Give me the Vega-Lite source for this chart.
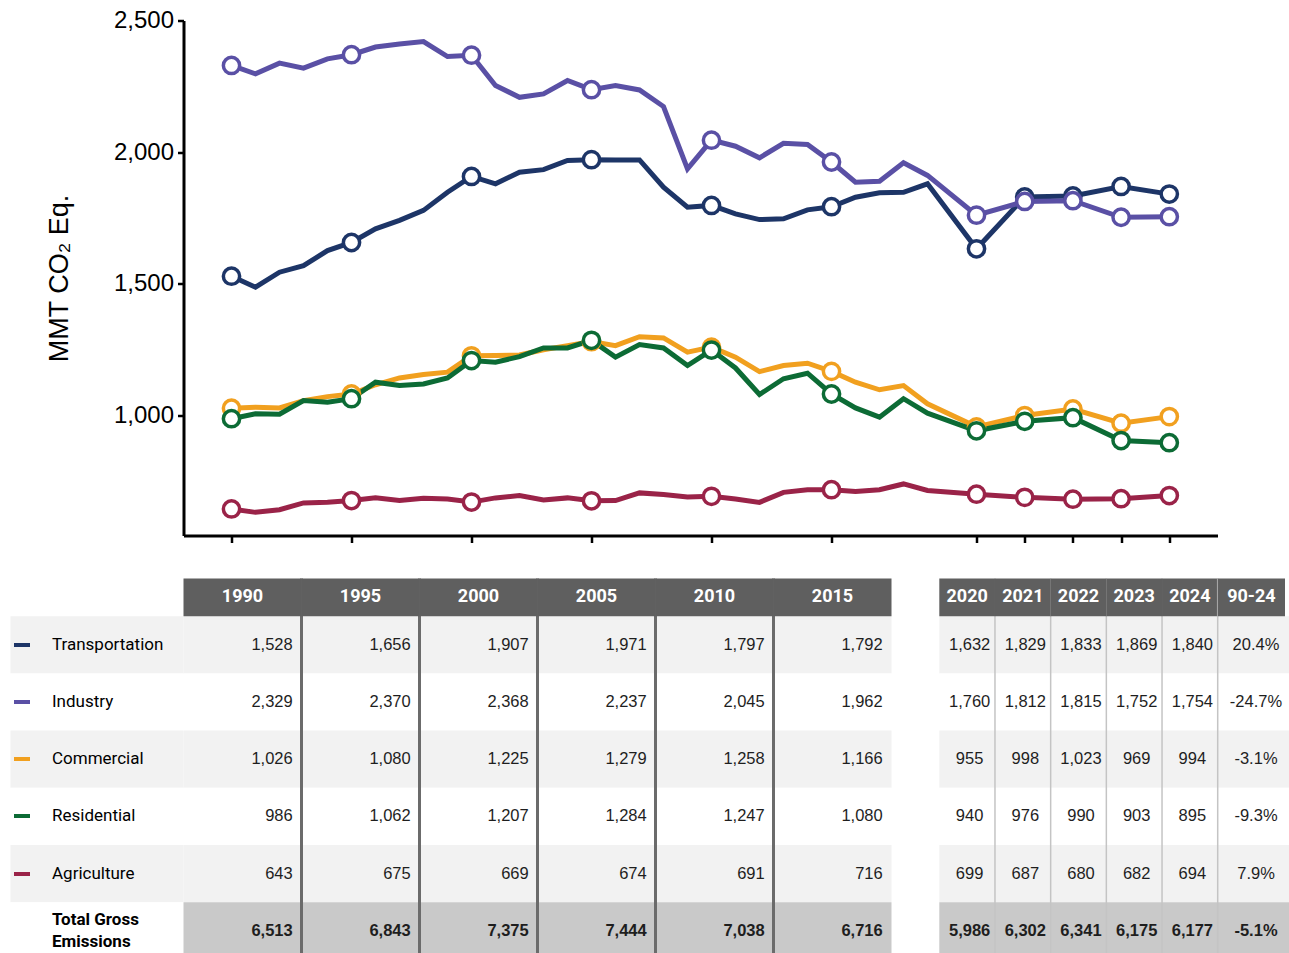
{
  "$schema": "https://vega.github.io/schema/vega-lite/v6.json",
  "background": "white",
  "padding": {"left": 10.5, "top": 8.5, "right": 0, "bottom": 0},
  "config": {"view": {"stroke": null}},
  "datasets": {
    "series": [
      {"sector":"Transportation","year":1990,"value":1528},{"sector":"Transportation","year":1991,"value":1486},{"sector":"Transportation","year":1992,"value":1543},{"sector":"Transportation","year":1993,"value":1568},{"sector":"Transportation","year":1994,"value":1625},{"sector":"Transportation","year":1995,"value":1656},{"sector":"Transportation","year":1996,"value":1708},{"sector":"Transportation","year":1997,"value":1740},{"sector":"Transportation","year":1998,"value":1778},{"sector":"Transportation","year":1999,"value":1847},{"sector":"Transportation","year":2000,"value":1907},{"sector":"Transportation","year":2001,"value":1879},{"sector":"Transportation","year":2002,"value":1923},{"sector":"Transportation","year":2003,"value":1933},{"sector":"Transportation","year":2004,"value":1968},{"sector":"Transportation","year":2005,"value":1971},{"sector":"Transportation","year":2006,"value":1970},{"sector":"Transportation","year":2007,"value":1970},{"sector":"Transportation","year":2008,"value":1866},{"sector":"Transportation","year":2009,"value":1790},{"sector":"Transportation","year":2010,"value":1797},{"sector":"Transportation","year":2011,"value":1765},{"sector":"Transportation","year":2012,"value":1743},{"sector":"Transportation","year":2013,"value":1746},{"sector":"Transportation","year":2014,"value":1780},{"sector":"Transportation","year":2015,"value":1792},{"sector":"Transportation","year":2016,"value":1828},{"sector":"Transportation","year":2017,"value":1845},{"sector":"Transportation","year":2018,"value":1847},{"sector":"Transportation","year":2019,"value":1879},{"sector":"Transportation","year":2020,"value":1632},{"sector":"Transportation","year":2021,"value":1829},{"sector":"Transportation","year":2022,"value":1833},{"sector":"Transportation","year":2023,"value":1869},{"sector":"Transportation","year":2024,"value":1840},
      {"sector":"Industry","year":1990,"value":2329},{"sector":"Industry","year":1991,"value":2297},{"sector":"Industry","year":1992,"value":2338},{"sector":"Industry","year":1993,"value":2319},{"sector":"Industry","year":1994,"value":2354},{"sector":"Industry","year":1995,"value":2370},{"sector":"Industry","year":1996,"value":2399},{"sector":"Industry","year":1997,"value":2411},{"sector":"Industry","year":1998,"value":2420},{"sector":"Industry","year":1999,"value":2363},{"sector":"Industry","year":2000,"value":2368},{"sector":"Industry","year":2001,"value":2253},{"sector":"Industry","year":2002,"value":2208},{"sector":"Industry","year":2003,"value":2221},{"sector":"Industry","year":2004,"value":2272},{"sector":"Industry","year":2005,"value":2237},{"sector":"Industry","year":2006,"value":2253},{"sector":"Industry","year":2007,"value":2236},{"sector":"Industry","year":2008,"value":2173},{"sector":"Industry","year":2009,"value":1936},{"sector":"Industry","year":2010,"value":2045},{"sector":"Industry","year":2011,"value":2022},{"sector":"Industry","year":2012,"value":1978},{"sector":"Industry","year":2013,"value":2033},{"sector":"Industry","year":2014,"value":2029},{"sector":"Industry","year":2015,"value":1962},{"sector":"Industry","year":2016,"value":1885},{"sector":"Industry","year":2017,"value":1889},{"sector":"Industry","year":2018,"value":1959},{"sector":"Industry","year":2019,"value":1911},{"sector":"Industry","year":2020,"value":1760},{"sector":"Industry","year":2021,"value":1812},{"sector":"Industry","year":2022,"value":1815},{"sector":"Industry","year":2023,"value":1752},{"sector":"Industry","year":2024,"value":1754},
      {"sector":"Commercial","year":1990,"value":1026},{"sector":"Commercial","year":1991,"value":1030},{"sector":"Commercial","year":1992,"value":1027},{"sector":"Commercial","year":1993,"value":1055},{"sector":"Commercial","year":1994,"value":1070},{"sector":"Commercial","year":1995,"value":1080},{"sector":"Commercial","year":1996,"value":1115},{"sector":"Commercial","year":1997,"value":1141},{"sector":"Commercial","year":1998,"value":1154},{"sector":"Commercial","year":1999,"value":1163},{"sector":"Commercial","year":2000,"value":1225},{"sector":"Commercial","year":2001,"value":1226},{"sector":"Commercial","year":2002,"value":1228},{"sector":"Commercial","year":2003,"value":1248},{"sector":"Commercial","year":2004,"value":1264},{"sector":"Commercial","year":2005,"value":1279},{"sector":"Commercial","year":2006,"value":1264},{"sector":"Commercial","year":2007,"value":1298},{"sector":"Commercial","year":2008,"value":1293},{"sector":"Commercial","year":2009,"value":1239},{"sector":"Commercial","year":2010,"value":1258},{"sector":"Commercial","year":2011,"value":1220},{"sector":"Commercial","year":2012,"value":1165},{"sector":"Commercial","year":2013,"value":1188},{"sector":"Commercial","year":2014,"value":1197},{"sector":"Commercial","year":2015,"value":1166},{"sector":"Commercial","year":2016,"value":1125},{"sector":"Commercial","year":2017,"value":1096},{"sector":"Commercial","year":2018,"value":1112},{"sector":"Commercial","year":2019,"value":1043},{"sector":"Commercial","year":2020,"value":955},{"sector":"Commercial","year":2021,"value":998},{"sector":"Commercial","year":2022,"value":1023},{"sector":"Commercial","year":2023,"value":969},{"sector":"Commercial","year":2024,"value":994},
      {"sector":"Residential","year":1990,"value":986},{"sector":"Residential","year":1991,"value":1005},{"sector":"Residential","year":1992,"value":1003},{"sector":"Residential","year":1993,"value":1055},{"sector":"Residential","year":1994,"value":1049},{"sector":"Residential","year":1995,"value":1062},{"sector":"Residential","year":1996,"value":1125},{"sector":"Residential","year":1997,"value":1112},{"sector":"Residential","year":1998,"value":1118},{"sector":"Residential","year":1999,"value":1141},{"sector":"Residential","year":2000,"value":1207},{"sector":"Residential","year":2001,"value":1201},{"sector":"Residential","year":2002,"value":1222},{"sector":"Residential","year":2003,"value":1255},{"sector":"Residential","year":2004,"value":1255},{"sector":"Residential","year":2005,"value":1284},{"sector":"Residential","year":2006,"value":1220},{"sector":"Residential","year":2007,"value":1268},{"sector":"Residential","year":2008,"value":1255},{"sector":"Residential","year":2009,"value":1188},{"sector":"Residential","year":2010,"value":1247},{"sector":"Residential","year":2011,"value":1179},{"sector":"Residential","year":2012,"value":1078},{"sector":"Residential","year":2013,"value":1138},{"sector":"Residential","year":2014,"value":1159},{"sector":"Residential","year":2015,"value":1080},{"sector":"Residential","year":2016,"value":1027},{"sector":"Residential","year":2017,"value":992},{"sector":"Residential","year":2018,"value":1062},{"sector":"Residential","year":2019,"value":1007},{"sector":"Residential","year":2020,"value":940},{"sector":"Residential","year":2021,"value":976},{"sector":"Residential","year":2022,"value":990},{"sector":"Residential","year":2023,"value":903},{"sector":"Residential","year":2024,"value":895},
      {"sector":"Agriculture","year":1990,"value":643},{"sector":"Agriculture","year":1991,"value":630},{"sector":"Agriculture","year":1992,"value":640},{"sector":"Agriculture","year":1993,"value":666},{"sector":"Agriculture","year":1994,"value":668},{"sector":"Agriculture","year":1995,"value":675},{"sector":"Agriculture","year":1996,"value":685},{"sector":"Agriculture","year":1997,"value":675},{"sector":"Agriculture","year":1998,"value":684},{"sector":"Agriculture","year":1999,"value":681},{"sector":"Agriculture","year":2000,"value":669},{"sector":"Agriculture","year":2001,"value":685},{"sector":"Agriculture","year":2002,"value":694},{"sector":"Agriculture","year":2003,"value":677},{"sector":"Agriculture","year":2004,"value":685},{"sector":"Agriculture","year":2005,"value":674},{"sector":"Agriculture","year":2006,"value":675},{"sector":"Agriculture","year":2007,"value":704},{"sector":"Agriculture","year":2008,"value":698},{"sector":"Agriculture","year":2009,"value":688},{"sector":"Agriculture","year":2010,"value":691},{"sector":"Agriculture","year":2011,"value":681},{"sector":"Agriculture","year":2012,"value":668},{"sector":"Agriculture","year":2013,"value":706},{"sector":"Agriculture","year":2014,"value":716},{"sector":"Agriculture","year":2015,"value":716},{"sector":"Agriculture","year":2016,"value":709},{"sector":"Agriculture","year":2017,"value":716},{"sector":"Agriculture","year":2018,"value":738},{"sector":"Agriculture","year":2019,"value":713},{"sector":"Agriculture","year":2020,"value":699},{"sector":"Agriculture","year":2021,"value":687},{"sector":"Agriculture","year":2022,"value":680},{"sector":"Agriculture","year":2023,"value":682},{"sector":"Agriculture","year":2024,"value":694}
    ],
    "rows": [
      {"sector":"Transportation"},{"sector":"Industry"},{"sector":"Commercial"},{"sector":"Residential"},{"sector":"Agriculture"},{"sector":"Total"}
    ],
    "table": [
      {"sector":"Transportation","col":"1990","text":"1,528"},{"sector":"Transportation","col":"1995","text":"1,656"},{"sector":"Transportation","col":"2000","text":"1,907"},{"sector":"Transportation","col":"2005","text":"1,971"},{"sector":"Transportation","col":"2010","text":"1,797"},{"sector":"Transportation","col":"2015","text":"1,792"},{"sector":"Transportation","col":"2020","text":"1,632"},{"sector":"Transportation","col":"2021","text":"1,829"},{"sector":"Transportation","col":"2022","text":"1,833"},{"sector":"Transportation","col":"2023","text":"1,869"},{"sector":"Transportation","col":"2024","text":"1,840"},{"sector":"Transportation","col":"90-24","text":"20.4%"},
      {"sector":"Industry","col":"1990","text":"2,329"},{"sector":"Industry","col":"1995","text":"2,370"},{"sector":"Industry","col":"2000","text":"2,368"},{"sector":"Industry","col":"2005","text":"2,237"},{"sector":"Industry","col":"2010","text":"2,045"},{"sector":"Industry","col":"2015","text":"1,962"},{"sector":"Industry","col":"2020","text":"1,760"},{"sector":"Industry","col":"2021","text":"1,812"},{"sector":"Industry","col":"2022","text":"1,815"},{"sector":"Industry","col":"2023","text":"1,752"},{"sector":"Industry","col":"2024","text":"1,754"},{"sector":"Industry","col":"90-24","text":"-24.7%"},
      {"sector":"Commercial","col":"1990","text":"1,026"},{"sector":"Commercial","col":"1995","text":"1,080"},{"sector":"Commercial","col":"2000","text":"1,225"},{"sector":"Commercial","col":"2005","text":"1,279"},{"sector":"Commercial","col":"2010","text":"1,258"},{"sector":"Commercial","col":"2015","text":"1,166"},{"sector":"Commercial","col":"2020","text":"955"},{"sector":"Commercial","col":"2021","text":"998"},{"sector":"Commercial","col":"2022","text":"1,023"},{"sector":"Commercial","col":"2023","text":"969"},{"sector":"Commercial","col":"2024","text":"994"},{"sector":"Commercial","col":"90-24","text":"-3.1%"},
      {"sector":"Residential","col":"1990","text":"986"},{"sector":"Residential","col":"1995","text":"1,062"},{"sector":"Residential","col":"2000","text":"1,207"},{"sector":"Residential","col":"2005","text":"1,284"},{"sector":"Residential","col":"2010","text":"1,247"},{"sector":"Residential","col":"2015","text":"1,080"},{"sector":"Residential","col":"2020","text":"940"},{"sector":"Residential","col":"2021","text":"976"},{"sector":"Residential","col":"2022","text":"990"},{"sector":"Residential","col":"2023","text":"903"},{"sector":"Residential","col":"2024","text":"895"},{"sector":"Residential","col":"90-24","text":"-9.3%"},
      {"sector":"Agriculture","col":"1990","text":"643"},{"sector":"Agriculture","col":"1995","text":"675"},{"sector":"Agriculture","col":"2000","text":"669"},{"sector":"Agriculture","col":"2005","text":"674"},{"sector":"Agriculture","col":"2010","text":"691"},{"sector":"Agriculture","col":"2015","text":"716"},{"sector":"Agriculture","col":"2020","text":"699"},{"sector":"Agriculture","col":"2021","text":"687"},{"sector":"Agriculture","col":"2022","text":"680"},{"sector":"Agriculture","col":"2023","text":"682"},{"sector":"Agriculture","col":"2024","text":"694"},{"sector":"Agriculture","col":"90-24","text":"7.9%"},
      {"sector":"Total","col":"1990","text":"6,513"},{"sector":"Total","col":"1995","text":"6,843"},{"sector":"Total","col":"2000","text":"7,375"},{"sector":"Total","col":"2005","text":"7,444"},{"sector":"Total","col":"2010","text":"7,038"},{"sector":"Total","col":"2015","text":"6,716"},{"sector":"Total","col":"2020","text":"5,986"},{"sector":"Total","col":"2021","text":"6,302"},{"sector":"Total","col":"2022","text":"6,341"},{"sector":"Total","col":"2023","text":"6,175"},{"sector":"Total","col":"2024","text":"6,177"},{"sector":"Total","col":"90-24","text":"-5.1%"}
    ]
  },
  "bounds": "flush",
  "spacing": 43,
  "resolve": {"scale": {"color": "independent", "fill": "independent", "stroke": "independent"}},
  "vconcat": [
    {
      "width": 1207, "height": 515,
      "data": {"name": "series"},
      "encoding": {
        "x": {"field": "year", "type": "quantitative",
          "scale": {"domain": [1988, 2019, 2020, 2025], "range": [173, 917, 966, 1207]},
          "axis": {"values": [1990,1995,2000,2005,2010,2015,2020,2021,2022,2023,2024], "labels": false, "title": null, "grid": false,
            "tickSize": 7, "tickWidth": 2.5, "tickColor": "#000000", "domainColor": "#000000", "domainWidth": 3}},
        "y": {"field": "value", "type": "quantitative",
          "scale": {"domain": [542, 2500], "zero": false, "nice": false},
          "axis": {"values": [1000,1500,2000,2500], "format": ",.0f", "grid": false, "offset": -173,
            "title": "MMT CO₂ Eq.", "titleFont": "Liberation Sans", "titleFontSize": 27, "titleFontWeight": "normal", "titleColor": "#000000", "titlePadding": 40,
            "labelFont": "Liberation Sans", "labelFontSize": 24, "labelColor": "#000000", "labelPadding": 4,
            "tickSize": 6, "tickWidth": 2.5, "tickColor": "#000000", "domainColor": "#000000", "domainWidth": 3}}
      },
      "layer": [
        {
          "mark": {"type": "line", "strokeWidth": 5},
          "encoding": {"color": {"field": "sector", "type": "nominal",
            "scale": {"domain": ["Transportation","Industry","Commercial","Residential","Agriculture"], "range": ["#1d3567","#5a50a5","#f1a01f","#0c6b35","#9a2348"]},
            "legend": null}}
        },
        {
          "transform": [{"filter": {"field": "year", "oneOf": [1990,1995,2000,2005,2010,2015,2020,2021,2022,2023,2024]}}],
          "mark": {"type": "point", "filled": true, "fill": "#ffffff", "size": 265, "strokeWidth": 3.5, "opacity": 1},
          "encoding": {"stroke": {"field": "sector", "type": "nominal",
            "scale": {"domain": ["Transportation","Industry","Commercial","Residential","Agriculture"], "range": ["#1d3567","#5a50a5","#f1a01f","#0c6b35","#9a2348"]},
            "legend": null}}
        }
      ]
    },
    {
      "width": 1279, "height": 380.9,
      "resolve": {"scale": {"x": "independent", "y": "independent", "fill": "independent"}, "axis": {"x": "independent", "y": "independent"}},
      "layer": [
        {
          "data": {"name": "rows"},
          "mark": {"type": "rect"},
          "encoding": {
            "x": {"datum": "labels", "type": "nominal", "scale": {"type": "band", "domain": ["labels"], "range": [0, 173], "paddingInner": 0, "paddingOuter": 0}, "axis": null},
            "y": {"field": "sector", "type": "nominal",
              "scale": {"type": "band", "domain": ["Transportation","Industry","Commercial","Residential","Agriculture","Total"], "range": [37.7, 380.9], "paddingInner": 0, "paddingOuter": 0},
              "axis": {"orient": "left", "offset": -19, "domain": false, "grid": false, "title": null,
                "ticks": true, "tickSize": 16, "tickWidth": 4, "tickCap": "butt",
                "tickColor": {"expr": "datum.value === 'Transportation' ? '#1d3567' : datum.value === 'Industry' ? '#5a50a5' : datum.value === 'Commercial' ? '#f1a01f' : datum.value === 'Residential' ? '#0c6b35' : datum.value === 'Agriculture' ? '#9a2348' : 'transparent'"},
                "labelAlign": "left", "labelBaseline": "middle", "labelPadding": -38,
                "labelFont": "Roboto", "labelFontSize": 17, "labelColor": "#000000", "labelLimit": 200, "labelLineHeight": 22,
                "labelFontWeight": {"condition": {"test": "datum.value === 'Total'", "value": "bold"}, "value": "normal"},
                "labelOffset": {"condition": {"test": "datum.value === 'Total'", "value": -11}, "value": 0},
                "labelExpr": "datum.value === 'Total' ? ['Total Gross', 'Emissions'] : datum.value",
                "zindex": 1}},
            "fill": {"field": "sector", "type": "nominal",
              "scale": {"domain": ["Transportation","Industry","Commercial","Residential","Agriculture","Total"], "range": ["#f2f2f2","#ffffff","#f2f2f2","#ffffff","#f2f2f2","#ffffff"]},
              "legend": null}
          }
        },
        {
          "data": {"name": "table"},
          "transform": [{"filter": {"field": "col", "oneOf": ["1990","1995","2000","2005","2010","2015"]}}],
          "encoding": {
            "x": {"field": "col", "type": "nominal", "scale": {"type": "band", "domain": ["1990","1995","2000","2005","2010","2015"], "range": [173, 881], "paddingInner": 0, "paddingOuter": 0}, "axis": null},
            "y": {"field": "sector", "type": "nominal", "scale": {"type": "band", "domain": ["Transportation","Industry","Commercial","Residential","Agriculture","Total"], "range": [37.7, 380.9], "paddingInner": 0, "paddingOuter": 0}, "axis": null}
          },
          "layer": [
            {
              "mark": {"type": "rect"},
              "encoding": {"fill": {"field": "sector", "type": "nominal",
                "scale": {"domain": ["Transportation","Industry","Commercial","Residential","Agriculture","Total"], "range": ["#f2f2f2","#ffffff","#f2f2f2","#ffffff","#f2f2f2","#c9c9c9"]},
                "legend": null}}
            },
            {
              "transform": [{"filter": "datum.sector === 'Transportation' && datum.col !== '1990'"}],
              "mark": {"type": "rule", "color": "#6b6b6b", "strokeWidth": 3},
              "encoding": {"x": {"field": "col", "type": "nominal", "bandPosition": 0}, "y": null}
            },
            {
              "transform": [{"filter": "datum.sector !== 'Total'"}],
              "mark": {"type": "text", "align": "right", "baseline": "middle", "dx": -8.8, "font": "Liberation Sans", "fontSize": 16.5, "color": "#1e1e1e"},
              "encoding": {"x": {"field": "col", "type": "nominal", "bandPosition": 1}, "text": {"field": "text", "type": "nominal"}}
            },
            {
              "transform": [{"filter": "datum.sector === 'Total'"}],
              "mark": {"type": "text", "align": "right", "baseline": "middle", "dx": -8.8, "font": "Liberation Sans", "fontSize": 16.5, "fontWeight": "bold", "color": "#1e1e1e"},
              "encoding": {"x": {"field": "col", "type": "nominal", "bandPosition": 1}, "text": {"field": "text", "type": "nominal"}}
            }
          ]
        },
        {
          "data": {"name": "table"},
          "transform": [{"filter": {"field": "col", "oneOf": ["1990","1995","2000","2005","2010","2015"]}}, {"filter": "datum.sector === 'Transportation'"}],
          "encoding": {
            "x": {"field": "col", "type": "nominal", "scale": {"type": "band", "domain": ["1990","1995","2000","2005","2010","2015"], "range": [173, 881], "paddingInner": 0, "paddingOuter": 0}, "axis": null},
            "y": {"datum": "header", "type": "nominal", "scale": {"type": "band", "domain": ["header"], "range": [0, 37.7], "paddingInner": 0, "paddingOuter": 0}, "axis": null}
          },
          "layer": [
            {"mark": {"type": "rect", "fill": "#5f5f5f"}},
            {"mark": {"type": "text", "align": "center", "baseline": "middle", "font": "Roboto", "fontSize": 18, "fontWeight": "bold", "color": "#ffffff"},
             "encoding": {"text": {"field": "col", "type": "nominal"}}}
          ]
        },
        {
          "data": {"name": "table"},
          "transform": [{"filter": {"field": "col", "oneOf": ["2020","2021","2022","2023","2024"]}}],
          "encoding": {
            "x": {"field": "col", "type": "nominal", "scale": {"type": "band", "domain": ["2020","2021","2022","2023","2024"], "range": [928.8, 1207.2], "paddingInner": 0, "paddingOuter": 0}, "axis": null},
            "y": {"field": "sector", "type": "nominal", "scale": {"type": "band", "domain": ["Transportation","Industry","Commercial","Residential","Agriculture","Total"], "range": [37.7, 380.9], "paddingInner": 0, "paddingOuter": 0}, "axis": null}
          },
          "layer": [
            {
              "mark": {"type": "rect"},
              "encoding": {"fill": {"field": "sector", "type": "nominal",
                "scale": {"domain": ["Transportation","Industry","Commercial","Residential","Agriculture","Total"], "range": ["#f2f2f2","#ffffff","#f2f2f2","#ffffff","#f2f2f2","#c9c9c9"]},
                "legend": null}}
            },
            {
              "transform": [{"filter": "datum.sector === 'Transportation' && datum.col !== '2020'"}],
              "mark": {"type": "rule", "color": "#c4c4c4", "strokeWidth": 1.5},
              "encoding": {"x": {"field": "col", "type": "nominal", "bandPosition": 0}, "y": null}
            },
            {
              "transform": [{"filter": "datum.sector !== 'Total'"}],
              "mark": {"type": "text", "align": "center", "baseline": "middle", "dx": 2.5, "font": "Liberation Sans", "fontSize": 16.5, "color": "#1e1e1e"},
              "encoding": {"text": {"field": "text", "type": "nominal"}}
            },
            {
              "transform": [{"filter": "datum.sector === 'Total'"}],
              "mark": {"type": "text", "align": "center", "baseline": "middle", "dx": 2.5, "font": "Liberation Sans", "fontSize": 16.5, "fontWeight": "bold", "color": "#1e1e1e"},
              "encoding": {"text": {"field": "text", "type": "nominal"}}
            }
          ]
        },
        {
          "data": {"name": "table"},
          "transform": [{"filter": {"field": "col", "oneOf": ["2020","2021","2022","2023","2024"]}}, {"filter": "datum.sector === 'Transportation'"}],
          "encoding": {
            "x": {"field": "col", "type": "nominal", "scale": {"type": "band", "domain": ["2020","2021","2022","2023","2024"], "range": [928.8, 1207.2], "paddingInner": 0, "paddingOuter": 0}, "axis": null},
            "y": {"datum": "header", "type": "nominal", "scale": {"type": "band", "domain": ["header"], "range": [0, 37.7], "paddingInner": 0, "paddingOuter": 0}, "axis": null}
          },
          "layer": [
            {"mark": {"type": "rect", "fill": "#5f5f5f"}},
            {"mark": {"type": "text", "align": "center", "baseline": "middle", "font": "Roboto", "fontSize": 18, "fontWeight": "bold", "color": "#ffffff"},
             "encoding": {"text": {"field": "col", "type": "nominal"}}}
          ]
        },
        {
          "data": {"name": "table"},
          "transform": [{"filter": {"field": "col", "oneOf": ["90-24"]}}],
          "encoding": {
            "x": {"field": "col", "type": "nominal", "scale": {"type": "band", "domain": ["90-24"], "range": [1207.2, 1279], "paddingInner": 0, "paddingOuter": 0}, "axis": null},
            "y": {"field": "sector", "type": "nominal", "scale": {"type": "band", "domain": ["Transportation","Industry","Commercial","Residential","Agriculture","Total"], "range": [37.7, 380.9], "paddingInner": 0, "paddingOuter": 0}, "axis": null}
          },
          "layer": [
            {
              "mark": {"type": "rect"},
              "encoding": {"fill": {"field": "sector", "type": "nominal",
                "scale": {"domain": ["Transportation","Industry","Commercial","Residential","Agriculture","Total"], "range": ["#f2f2f2","#ffffff","#f2f2f2","#ffffff","#f2f2f2","#c9c9c9"]},
                "legend": null}}
            },
            {
              "transform": [{"filter": "datum.sector === 'Transportation'"}],
              "mark": {"type": "rule", "color": "#c4c4c4", "strokeWidth": 1.5},
              "encoding": {"x": {"field": "col", "type": "nominal", "bandPosition": 0}, "y": null}
            },
            {
              "transform": [{"filter": "datum.sector !== 'Total'"}],
              "mark": {"type": "text", "align": "center", "baseline": "middle", "dx": 2.4, "font": "Liberation Sans", "fontSize": 16.5, "color": "#1e1e1e"},
              "encoding": {"text": {"field": "text", "type": "nominal"}}
            },
            {
              "transform": [{"filter": "datum.sector === 'Total'"}],
              "mark": {"type": "text", "align": "center", "baseline": "middle", "dx": 2.4, "font": "Liberation Sans", "fontSize": 16.5, "fontWeight": "bold", "color": "#1e1e1e"},
              "encoding": {"text": {"field": "text", "type": "nominal"}}
            }
          ]
        },
        {
          "data": {"name": "table"},
          "transform": [{"filter": {"field": "col", "oneOf": ["90-24"]}}, {"filter": "datum.sector === 'Transportation'"}],
          "encoding": {
            "x": {"field": "col", "type": "nominal", "scale": {"type": "band", "domain": ["90-24"], "range": [1207.2, 1274.5], "paddingInner": 0, "paddingOuter": 0}, "axis": null},
            "y": {"datum": "header", "type": "nominal", "scale": {"type": "band", "domain": ["header"], "range": [0, 37.7], "paddingInner": 0, "paddingOuter": 0}, "axis": null}
          },
          "layer": [
            {"mark": {"type": "rect", "fill": "#5f5f5f"}},
            {"mark": {"type": "text", "align": "center", "baseline": "middle", "font": "Roboto", "fontSize": 18, "fontWeight": "bold", "color": "#ffffff"},
             "encoding": {"text": {"field": "col", "type": "nominal"}}}
          ]
        }
      ]
    }
  ]
}
